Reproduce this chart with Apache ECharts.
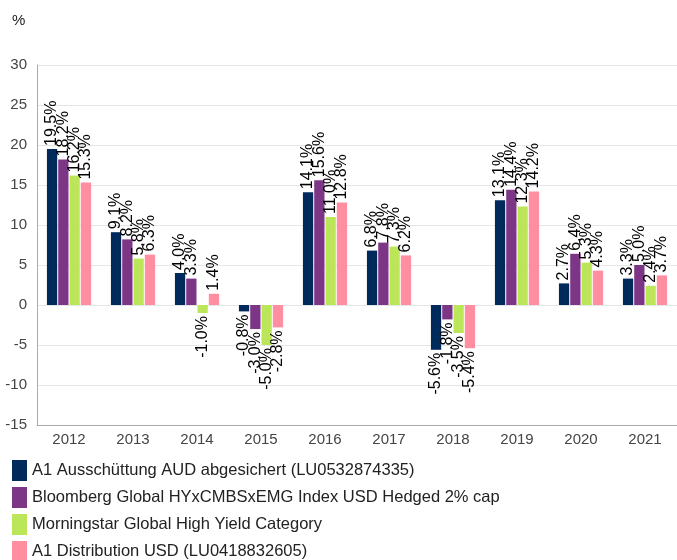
<!DOCTYPE html>
<html>
<head>
<meta charset="utf-8">
<script src="https://cdn.jsdelivr.net/npm/echarts@6/dist/echarts.min.js"></script>
<style>
  html, body { margin: 0; padding: 0; background: #fff; }
  #chart { width: 677px; height: 560px; }
</style>
</head>
<body>
<div id="chart"></div>
<script>
// data
var years = ['2012','2013','2014','2015','2016','2017','2018','2019','2020','2021'];
var seriesNames = [
  'A1 Ausschüttung AUD abgesichert (LU0532874335)',
  'Bloomberg Global HYxCMBSxEMG Index USD Hedged 2% cap',
  'Morningstar Global High Yield Category',
  'A1 Distribution USD (LU0418832605)'
];
var fundAud   = [19.5, 9.1, 4.0, -0.8, 14.1, 6.8, -5.6, 13.1, 2.7, 3.3];
var benchmark = [18.2, 8.2, 3.3, -3.0, 15.6, 7.8, -1.8, 14.4, 6.4, 5.0];
var category  = [16.2, 5.8, -1.0, -5.0, 11.0, 7.3, -3.5, 12.3, 5.3, 2.4];
var fundUsd   = [15.3, 6.3, 1.4, -2.8, 12.8, 6.2, -5.4, 14.2, 4.3, 3.7];
var colors = ['#002a5c', '#7d3586', '#bce65a', '#ff8fa0'];

var chart = echarts.init(document.getElementById('chart'));

function makeSeries(name, values, color) {
  return {
    name: name,
    type: 'bar',
    barGap: '10%',
    barCategoryGap: '31%',
    itemStyle: { color: color },
    data: values.map(function (v) {
      // negative bars get their label below the bar
      return {
        value: v,
        label: v < 0 ? { position: 'bottom', align: 'right' } : { position: 'top', align: 'left' }
      };
    }),
    label: {
      show: true,
      rotate: 90,
      verticalAlign: 'middle',
      distance: 3,
      fontSize: 16,
      color: '#000',
      fontFamily: 'Liberation Sans',
      formatter: function (p) { return p.value.toFixed(1) + '%'; }
    }
  };
}

var option = {
  animation: false,
  textStyle: { fontFamily: 'Liberation Sans' },
  graphic: [{
    type: 'text', left: 12, top: 13,
    style: { text: '%', fontSize: 15, fill: '#222', fontFamily: 'Liberation Sans' }
  }],
  grid: { left: 37, right: 0, top: 65, bottom: 135 },
  legend: {
    orient: 'vertical',
    left: 12, top: 460,
    height: 200,
    padding: 0,
    itemWidth: 15, itemHeight: 21,
    itemGap: 6,
    icon: 'rect',
    textStyle: { fontSize: 16.5, color: '#222', padding: [0, 0, 0, 0] },
    data: seriesNames
  },
  xAxis: {
    type: 'category',
    data: years,
    axisLine: { onZero: false, lineStyle: { color: '#aaa' } },
    axisTick: { show: false },
    axisLabel: { fontSize: 15, color: '#444', margin: 7 }
  },
  yAxis: {
    type: 'value',
    min: -15, max: 30, interval: 5,
    axisLine: { show: true, lineStyle: { color: '#aaa' } },
    axisTick: { show: false },
    axisLabel: { fontSize: 15, color: '#444', margin: 10 },
    splitLine: { lineStyle: { color: '#e6e6e6' } }
  },
  series: [
    makeSeries(seriesNames[0], fundAud, colors[0]),
    makeSeries(seriesNames[1], benchmark, colors[1]),
    makeSeries(seriesNames[2], category, colors[2]),
    makeSeries(seriesNames[3], fundUsd, colors[3])
  ]
};
chart.setOption(option);
</script>
</body>
</html>
